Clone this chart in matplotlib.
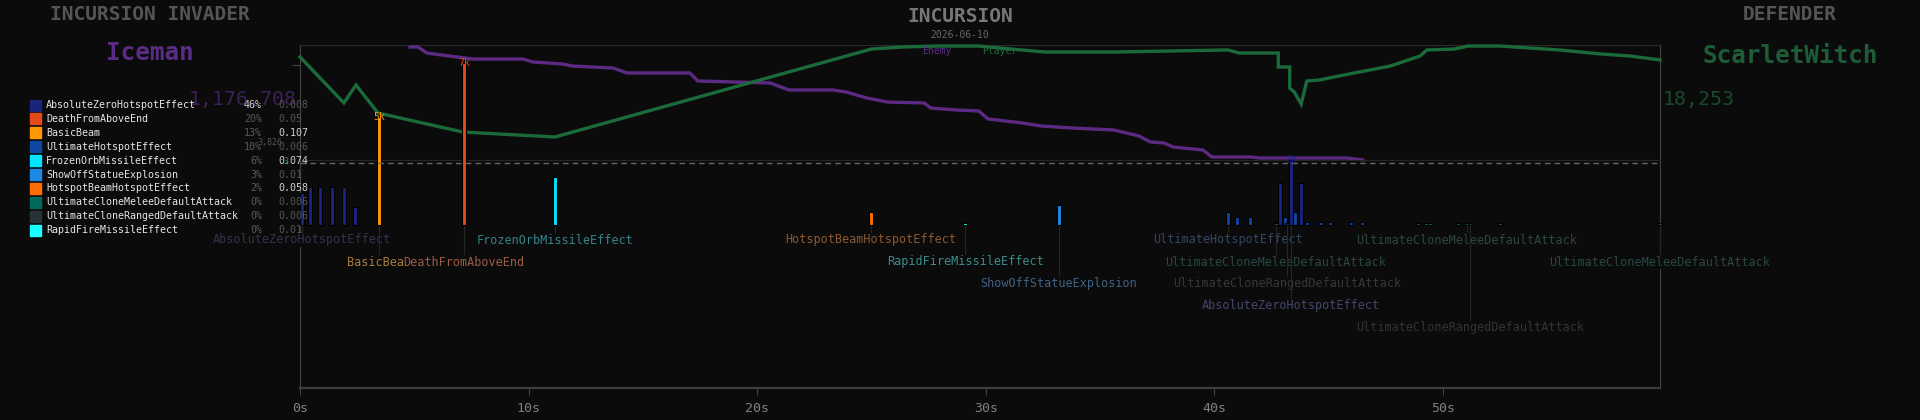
import matplotlib
matplotlib.use("Agg")
import matplotlib.pyplot as plt
from matplotlib.lines import Line2D
from matplotlib.patches import Rectangle
from matplotlib.transforms import blended_transform_factory
from matplotlib.colors import to_rgb

plt.rcParams["font.family"] = ["DejaVu Sans Mono", "DejaVu Sans"]

BG = "#0b0b0b"
W, H = 1920, 420

# ── data ─────────────────────────────────────────────────────────────────────
abilities = ["AbsoluteZeroHotspotEffect", "DeathFromAboveEnd", "BasicBeam",
             "UltimateHotspotEffect", "FrozenOrbMissileEffect", "ShowOffStatueExplosion",
             "HotspotBeamHotspotEffect", "UltimateCloneMeleeDefaultAttack",
             "UltimateCloneRangedDefaultAttack", "RapidFireMissileEffect"]
ability_colors = ["#1a237e", "#e64a19", "#ff9800", "#0d47a1", "#00e5ff",
                  "#1e88e5", "#ff6d00", "#00695c", "#263238", "#18ffff"]
share_pct = ["46%", "20%", "13%", "10%", "6%", "3%", "2%", "0%", "0%", "0%"]
share_val = ["0.008", "0.05", "0.107", "0.006", "0.074", "0.01", "0.058", "0.006", "0.006", "0.01"]

# player / enemy health as fraction of max, time in seconds
player_t = [0, 1.92, 2.45, 3.41, 7.13, 11.15, 25.0, 26.4, 27.8, 29.7, 30.6, 32.6, 35.6,
            38.1, 40.6, 41.1, 42.8, 42.8, 43.3, 43.3, 43.5, 43.8, 44.05, 44.6, 45.9,
            47.7, 49.0, 49.3, 50.5, 51.1, 52.5, 53.8, 55.1, 56.9, 58.2, 59.5]
player_hp = [0.896, 0.496, 0.652, 0.409, 0.243, 0.20, 0.965, 0.983, 0.991, 0.991, 0.974,
             0.939, 0.939, 0.948, 0.957, 0.930, 0.930, 0.809, 0.809, 0.626, 0.591, 0.487,
             0.687, 0.696, 0.748, 0.817, 0.904, 0.957, 0.965, 0.991, 0.991, 0.974, 0.957,
             0.922, 0.904, 0.870]
enemy_t = [4.81, 5.16, 5.55, 6.87, 7.57, 9.76, 10.2, 11.5, 11.9, 13.7, 14.3, 17.06, 17.4,
           20.56, 21.4, 23.3, 23.9, 24.8, 25.7, 27.3, 27.6, 28.7, 29.7, 30.1, 31.6, 32.4,
           33.8, 35.6, 36.7, 37.2, 37.8, 38.2, 39.5, 39.9, 41.6, 42.0, 45.8, 46.5]
enemy_hp = [0.983, 0.983, 0.930, 0.896, 0.878, 0.878, 0.852, 0.835, 0.817, 0.800, 0.757,
            0.757, 0.687, 0.670, 0.609, 0.609, 0.591, 0.539, 0.504, 0.496, 0.452, 0.435,
            0.426, 0.357, 0.322, 0.296, 0.278, 0.261, 0.209, 0.157, 0.148, 0.113, 0.087,
            0.026, 0.026, 0.017, 0.017, 0.0]

# damage events
hit_t = [0.1, 0.44, 0.88, 1.4, 1.92, 2.41, 3.46, 7.17, 11.15, 24.98, 29.1, 33.2, 40.6,
         41.0, 41.56, 42.7, 42.87, 43.1, 43.2, 43.35, 43.55, 43.8, 44.05, 44.65, 45.06,
         46.0, 46.45, 48.9, 49.27, 49.45, 50.66, 51.05, 51.2, 52.5, 59.5]
hit_dmg = [1400, 1650, 1650, 1650, 1650, 780, 4700, 7000, 2100, 560, 90, 870, 560,
           350, 350, 80, 1800, 350, 80, 2800, 560, 1800, 130, 130, 130,
           130, 130, 80, 80, 80, 80, 80, 80, 80, 80]
hit_ability = [0, 0, 0, 0, 0, 0, 2, 1, 4, 6, 9, 5, 3,
               3, 3, 7, 0, 3, 8, 0, 3, 0, 3, 3, 3,
               3, 3, 7, 7, 7, 7, 7, 8, 7, 7]

# annotated events below the timeline: (time, ability, row)
label_t = [0.1, 11.15, 24.98, 40.6, 51.05, 3.46, 7.17, 29.1, 42.7, 59.5, 33.2, 43.2, 43.35, 51.2]
label_ability = [0, 4, 6, 3, 7, 2, 1, 9, 7, 7, 5, 8, 0, 8]
label_row = [0, 0, 0, 0, 0, 1, 1, 1, 1, 1, 2, 2, 3, 4]
label_alpha = [0.55, 0.7, 0.7, 0.65, 0.55, 0.85, 0.85, 0.7, 0.55, 0.55, 0.7, 0.55, 0.8, 0.5]

X_MAX = 59.5
ROW_Y = [240, 262, 284, 306, 328]


def rect(l, t, r, b):
    return [l / W, 1 - b / H, (r - l) / W, (b - t) / H]


def fy(py):
    return 1 - py / H


def mix(c, other="#888888", f=0.5):
    a, b = to_rgb(c), to_rgb(other)
    return tuple(a[i] * (1 - f) + b[i] * f for i in range(3))


fig = plt.figure(figsize=(19.2, 4.2), dpi=100, facecolor=BG)

# frame axes with the time axis
ax = fig.add_axes(rect(300, 45, 1660, 388))
ax.set_facecolor(BG)
ax.set_xlim(0, X_MAX)
ax.set_yticks([])
for s in ["left", "right"]:
    ax.spines[s].set_color("#444444")
ax.spines["top"].set_color("#2a2a2a")
ax.spines["bottom"].set_color("#3c3c3c")
ax.spines["bottom"].set_linewidth(1.6)
ax.set_xticks(range(0, 60, 10))
ax.set_xticklabels([f"{t}s" for t in range(0, 60, 10)])
ax.tick_params(axis="x", colors="#444444", labelcolor="#808080", labelsize=9.5, length=5, pad=5)

# health lines
ax_hp = fig.add_axes(rect(300, 45, 1660, 160))
ax_hp.patch.set_alpha(0)
ax_hp.set_xlim(0, X_MAX)
ax_hp.set_ylim(0, 1)
for s in ["top", "left", "right"]:
    ax_hp.spines[s].set_visible(False)
ax_hp.spines["bottom"].set_color("#262626")
ax_hp.set_xticks([])
ax_hp.set_yticks([0.826])
ax_hp.set_yticklabels([""])
ax_hp.tick_params(axis="y", colors="#444444", length=6)
ax_hp.plot(enemy_t, enemy_hp, color="#5c2a82", lw=2.4, solid_joinstyle="miter", clip_on=False)
ax_hp.plot(player_t, player_hp, color="#1b6a3a", lw=2.4, solid_joinstyle="miter", clip_on=False)

# damage bars
ax_bar = fig.add_axes(rect(300, 45, 1660, 225))
ax_bar.patch.set_alpha(0)
ax_bar.set_xlim(0, X_MAX)
ax_bar.set_ylim(0, 7800)
ax_bar.axis("off")
ax_bar.bar(hit_t, hit_dmg, width=0.17, color=[ability_colors[i] for i in hit_ability],
           edgecolor="black", linewidth=0.8, clip_on=False, zorder=2)
for t, d, a in zip(hit_t, hit_dmg, hit_ability):
    if d >= 2500:
        ax_bar.text(t, d, f"{d / 1000:.0f}k", color=ability_colors[a], fontsize=7,
                    ha="center", va="center", zorder=5)

fig.add_artist(Line2D([300 / W, 1660 / W], [fy(163)] * 2, color="#666666",
                      lw=1, ls=(0, (4, 3))))

# event labels under the timeline
blend = blended_transform_factory(ax_bar.transData, fig.transFigure)
for t, a, r, al in zip(label_t, label_ability, label_row, label_alpha):
    ax_bar.text(t, fy(ROW_Y[r]), abilities[a], transform=blend, ha="center", va="center",
                fontsize=8.5, color=mix(ability_colors[a]), alpha=al, clip_on=False, zorder=3,
                bbox=dict(boxstyle="square,pad=0.05", facecolor=BG, edgecolor="none"))
    ax_bar.plot([t, t], [fy(226), fy(ROW_Y[r] - 8)], transform=blend, color="#262626",
                lw=0.8, clip_on=False, zorder=4)

# legend
for i, (name, c, p, v) in enumerate(zip(abilities, ability_colors, share_pct, share_val)):
    yc = 105 + i * 13.9
    fig.add_artist(Rectangle((30 / W, fy(yc + 5.5)), 11 / W, 11 / H,
                             transform=fig.transFigure, color=c))
    fig.text(46 / W, fy(yc), name, color="#e6e6e6", fontsize=7.2, va="center")
    fig.text(262 / W, fy(yc), p, color="#d0d0d0" if i == 0 else "#5a5a5a",
             fontsize=7.2, va="center", ha="right")
    fig.text(278 / W, fy(yc), v, color="#d0d0d0" if v in ("0.107", "0.074", "0.058") else "#555555",
             fontsize=7.2, va="center")

# headers
fig.text(150 / W, fy(15), "INCURSION INVADER", color="#555555", fontsize=14,
         fontweight="bold", ha="center", va="center")
fig.text(150 / W, fy(53), "Iceman", color="#5b2c83", fontsize=17.5,
         fontweight="bold", ha="center", va="center")
fig.text(297 / W, fy(100), "1,176,708", color="#3b2155", fontsize=14.3,
         ha="right", va="center", zorder=-1)
fig.text(960 / W, fy(17), "INCURSION", color="#777777", fontsize=14,
         fontweight="bold", ha="center", va="center")
fig.text(960 / W, fy(35), "2026-06-10", color="#666666", fontsize=7, ha="center", va="center")
fig.text(937 / W, fy(51), "Enemy", color="#5e2d8a", fontsize=7, ha="center", va="center")
fig.text(1000 / W, fy(51), "Player", color="#1e6b3c", fontsize=7, ha="center", va="center")
fig.text(1790 / W, fy(15), "DEFENDER", color="#555555", fontsize=14,
         fontweight="bold", ha="center", va="center")
fig.text(1790 / W, fy(56), "ScarletWitch", color="#1d5c37", fontsize=17.5,
         fontweight="bold", ha="center", va="center")
fig.text(1663 / W, fy(100), "18,253", color="#1a4a2c", fontsize=14.3, ha="left", va="center")
fig.text(270 / W, fy(143), "3,826", color="#555555", fontsize=6, ha="center", va="center")
fig.text(286 / W, fy(161), "3", color="#2a9a4a", fontsize=6, ha="center", va="center")

fig.savefig("out.png", dpi=100, facecolor=BG)
